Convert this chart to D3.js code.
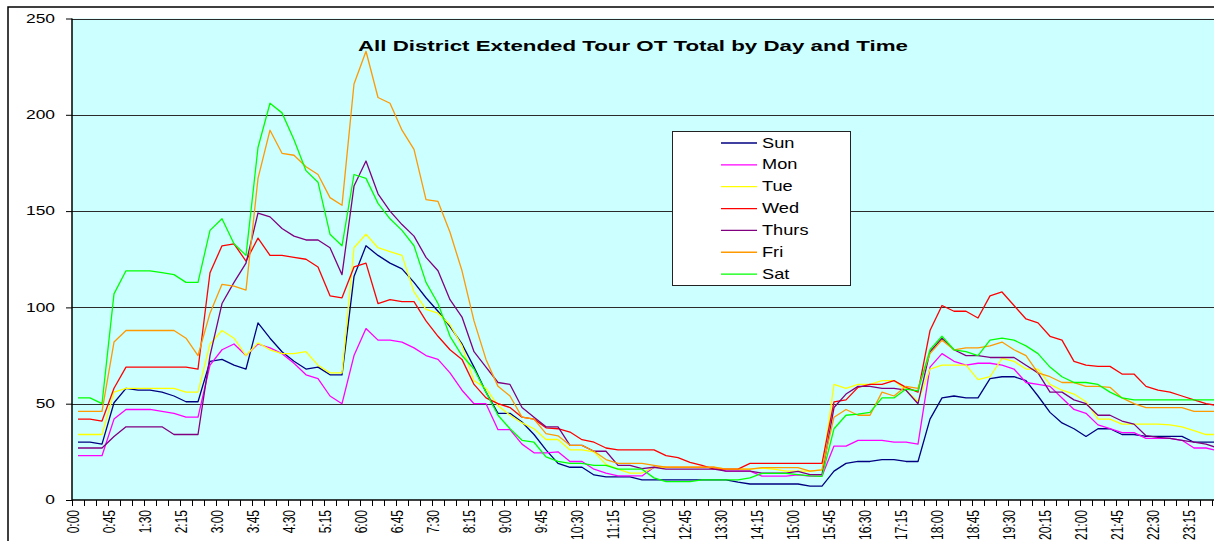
<!DOCTYPE html>
<html>
<head>
<meta charset="utf-8">
<script src="https://cdn.jsdelivr.net/npm/d3@7"></script>
<style>
  html, body { margin: 0; padding: 0; background: #fff; }
  svg { display: block; font-family: "Liberation Sans", Arial, sans-serif; }
</style>
</head>
<body>
<svg id="chart" width="1214" height="541"></svg>
<script>
// Quarter-hour slots across the day
const categories = d3.range(96).map(i => `${Math.floor(i / 4)}:${String((i % 4) * 15).padStart(2, "0")}`);
const yTicks = [0, 50, 100, 150, 200, 250];
const dayNames = ["Sun", "Mon", "Tue", "Wed", "Thurs", "Fri", "Sat"];
const dayColors = ["#000080", "#FF00FF", "#FFFF00", "#FF0000", "#800080", "#FF9900", "#00FF00"];

// Overtime totals per quarter hour, one array per weekday
const sun = [30,30,29,50.5,58,57,57,56,54,51,51,72,73,70,68,92,84,77,72,68,69,65,65,116,
  132,127,123,120,113,105,98,90,81,69,56,45,45,40.5,34,26,19,17,17,13,12,12,12,10.5,
  10.5,10.5,10.5,10.5,10.5,10.5,10.5,9.3,8.3,8.3,8.3,8.3,8.3,7.2,7.2,15,19,20,20,21,21,20,
  20,42,53,54,53,53,63,64,64,62,54,45.5,40,37,33,37,37,34,34,33,33,33,33,30,30,30];
const mon = [23,23,23,42,47,47,47,46,45,43,43,70,78,81,75,81,79,76,71,65,63,54,50,75,
  89,83,83,82,79,75,73,66,57,50,50,36.5,36.5,29,24.5,24.5,25,20,20,16,14,12.5,12.5,12.5,
  17,17,17,17,17,17,15,15,15,12.4,12.4,12.4,13,12.4,12.4,28,28,31,31,31,30,30,
  29,69,76,72,70,71,71,70,68,61,60,59,53,47,45,39,37,35,35,32,32,32,31,27,27,25.5];
const tue = [34,34,34,56,58,58,58,58,58,56,56,81,88,84,75,81.6,78,76,76,77,70,66,66,131,
  138,131,129,127,108,99,97,91,80,62,58,49,44,40,37,31.4,31.4,26,26,25,18.5,16,14,14,
  17,17,17,17,17,17,16,16,16,16.5,16,15,15,15,15.6,60,58,60,60,62,62,57,
  51,68,70,70,70,62.5,64,73.5,72,68,68,60,57,55,51,42,42,39.4,39.4,39.4,39.4,39,38,36,34,34];
const wed = [42,42,41,58,69,69,69,69,69,69,68,118,132,133,124,136,127,127,126,125,121,106,105,121,
  123,102,104,103,103,93,85,78,73,60,53,50,48,43,42,37.5,37,35.3,31.3,30,27,26,26,26,
  26,23,22,19.5,18,16,16,16,19,19,19,19,19,19,19,51,52,58.5,60,60,62,58.5,
  56,88,101,98,98,94.5,106,108,101,94,92,85,83,72,70,69.4,69.4,65.4,65.4,59,57,56,54,52,50,49];
const thurs = [27,27,27,33,38,38,38,38,34,34,34,75,102,113,123,149,147,141,137,135,135,131,117,163,
  176,159,150,143,137,126,119,104,95,77,69,61,60,48,43,38,38,28.4,28.4,25.3,25.3,18,18,16.3,
  17,16,16,16,16,16,15,15,15,14,14,14,14.9,13.2,13.2,48,55,59,59,58,58,57,
  50,77,84,78,75,75,74,74,74,70,66,56,56,52,50,44,44,41,39.4,33.4,32.5,32,31,30,29,27];
const fri = [46,46,46,82,88,88,88,88,88,84,75,97,112,111,109,167,192,180,179,173,169,157,153,216,
  233,209,206,192,182,156,155,139,119,93,73,59,54,43,42,34.5,33.3,28.4,28.4,25.3,21,19,19,19,
  18,17,17,17,17,17,16,16,16,16.8,16.8,16.8,16.8,15,15.6,43,47,44,44,56,54,59,
  58,76,83,78,79,79,80,82,78,75,66,64,61,61,59,59,58.5,53,50,48,48,48,48,46,46,46];
const sat = [53,53,50,107,119,119,119,118,117,113,113,140,146,133,127,183,206,201,187,171,165,138,132,169,
  167,154,146,140,132,113,102,85,75,68,56,44,37,31,30,22.4,20,19,19,18,18,16,16,16,
  11.5,9.5,9.5,9.5,10.5,10.5,10.5,10.5,11.5,13.8,13.8,13.8,13.2,12.5,12.3,37,44,44.6,45.5,53,53,57.6,
  56.7,78,85,78,77,75,83,84,83,80,76,69,64,61,61,60,56,53,52,52,52,52,52,52,52,52];

const dayValues = [sun, mon, tue, wed, thurs, fri, sat];

const svg = d3.select("#chart");
const W = 1214, H = 541;
const plot = { left: 72, top: 18.5, bottom: 500, slot: 12 };

// Chart-area frame
svg.append("path")
  .attr("d", `M8,${H + 2}V7H${W + 2}`)
  .attr("fill", "none").attr("stroke", "#000").attr("stroke-width", 1.5);

const x = d3.scaleLinear().domain([0, categories.length])
  .range([plot.left, plot.left + categories.length * plot.slot]);
const y = d3.scaleLinear().domain([0, 250]).range([plot.bottom, plot.top]);

// Plot background
svg.append("rect")
  .attr("x", plot.left).attr("y", y(250))
  .attr("width", W - plot.left).attr("height", y(0) - y(250))
  .attr("fill", "#CCFFFF");

// Horizontal gridlines
svg.append("g").selectAll("line")
  .data(yTicks.filter(v => v > 0))
  .join("line")
  .attr("x1", plot.left).attr("x2", W)
  .attr("y1", d => Math.round(y(d)) + 0.5).attr("y2", d => Math.round(y(d)) + 0.5)
  .attr("stroke", "#2b2b2b").attr("stroke-width", 1);

// Day series
const line = d3.line()
  .x((d, i) => x(i + 0.5))
  .y(d => y(d));

svg.append("clipPath").attr("id", "plotClip")
  .append("rect").attr("x", plot.left).attr("y", 0).attr("width", W - plot.left).attr("height", plot.bottom + 1);

svg.append("g").attr("clip-path", "url(#plotClip)")
  .selectAll("path")
  .data(dayValues)
  .join("path")
  .attr("d", d => line(d))
  .attr("fill", "none")
  .attr("stroke", (d, i) => dayColors[i])
  .attr("stroke-width", 1.3)
  .attr("stroke-linejoin", "round");

// Y axis
const yAxis = svg.append("g")
  .attr("transform", `translate(${plot.left},0)`)
  .call(d3.axisLeft(y).tickValues(yTicks).tickSize(6).tickFormat(d3.format("d")));
yAxis.select(".domain").attr("stroke", "#000").attr("stroke-width", 1.5)
  .attr("d", `M0,${y(250)}V${y(0)}`);
yAxis.selectAll(".tick line").attr("stroke", "#000").attr("stroke-width", 1);
yAxis.selectAll(".tick text")
  .attr("x", 0)
  .attr("transform", "translate(-17,0) scale(1.45,1)")
  .attr("fill", "#000")
  .style("font-size", "12px")
  .style("font-family", "'Liberation Sans', Arial, sans-serif");

// X axis: a tick at every slot boundary, a label every 45 minutes
const xAxis = svg.append("g")
  .attr("transform", `translate(0,${plot.bottom})`)
  .call(d3.axisBottom(x)
    .tickValues(d3.range(0, categories.length + 1))
    .tickSize(6)
    .tickFormat(i => (i % 3 === 0 && i < categories.length) ? categories[i] : ""));
xAxis.select(".domain").attr("stroke", "#000").attr("stroke-width", 1.5)
  .attr("d", `M${plot.left},0H${W + 2}`);
xAxis.selectAll(".tick line").attr("stroke", "#000").attr("stroke-width", 1);
xAxis.selectAll(".tick text")
  .attr("x", 0).attr("y", 0).attr("dy", "0.35em")
  .attr("text-anchor", "end")
  .attr("transform", "translate(1.5,10) scale(1.3,1) rotate(-90)")
  .attr("fill", "#000")
  .style("font-size", "12px")
  .style("font-family", "'Liberation Sans', Arial, sans-serif");

// Title
svg.append("text")
  .attr("x", 358).attr("y", 51)
  .attr("textLength", 550).attr("lengthAdjust", "spacingAndGlyphs")
  .style("font-size", "15px").style("font-weight", "bold")
  .text("All District Extended Tour OT Total by Day and Time");

// Legend
const legend = svg.append("g");
legend.append("rect")
  .attr("x", 672.5).attr("y", 131.5).attr("width", 178).attr("height", 154)
  .attr("fill", "#fff").attr("stroke", "#222").attr("stroke-width", 1);
const rows = legend.selectAll("g.row")
  .data(dayNames)
  .join("g").attr("class", "row")
  .attr("transform", (d, i) => `translate(0,${143 + i * 21.85})`);
rows.append("line")
  .attr("x1", 721).attr("x2", 757).attr("y1", 0).attr("y2", 0)
  .attr("stroke", (d, i) => dayColors[i]).attr("stroke-width", 1.3);
rows.append("text")
  .attr("transform", "translate(762,0) scale(1.3,1)")
  .attr("dy", "0.33em")
  .style("font-size", "14px")
  .text(d => d);
</script>
</body>
</html>
